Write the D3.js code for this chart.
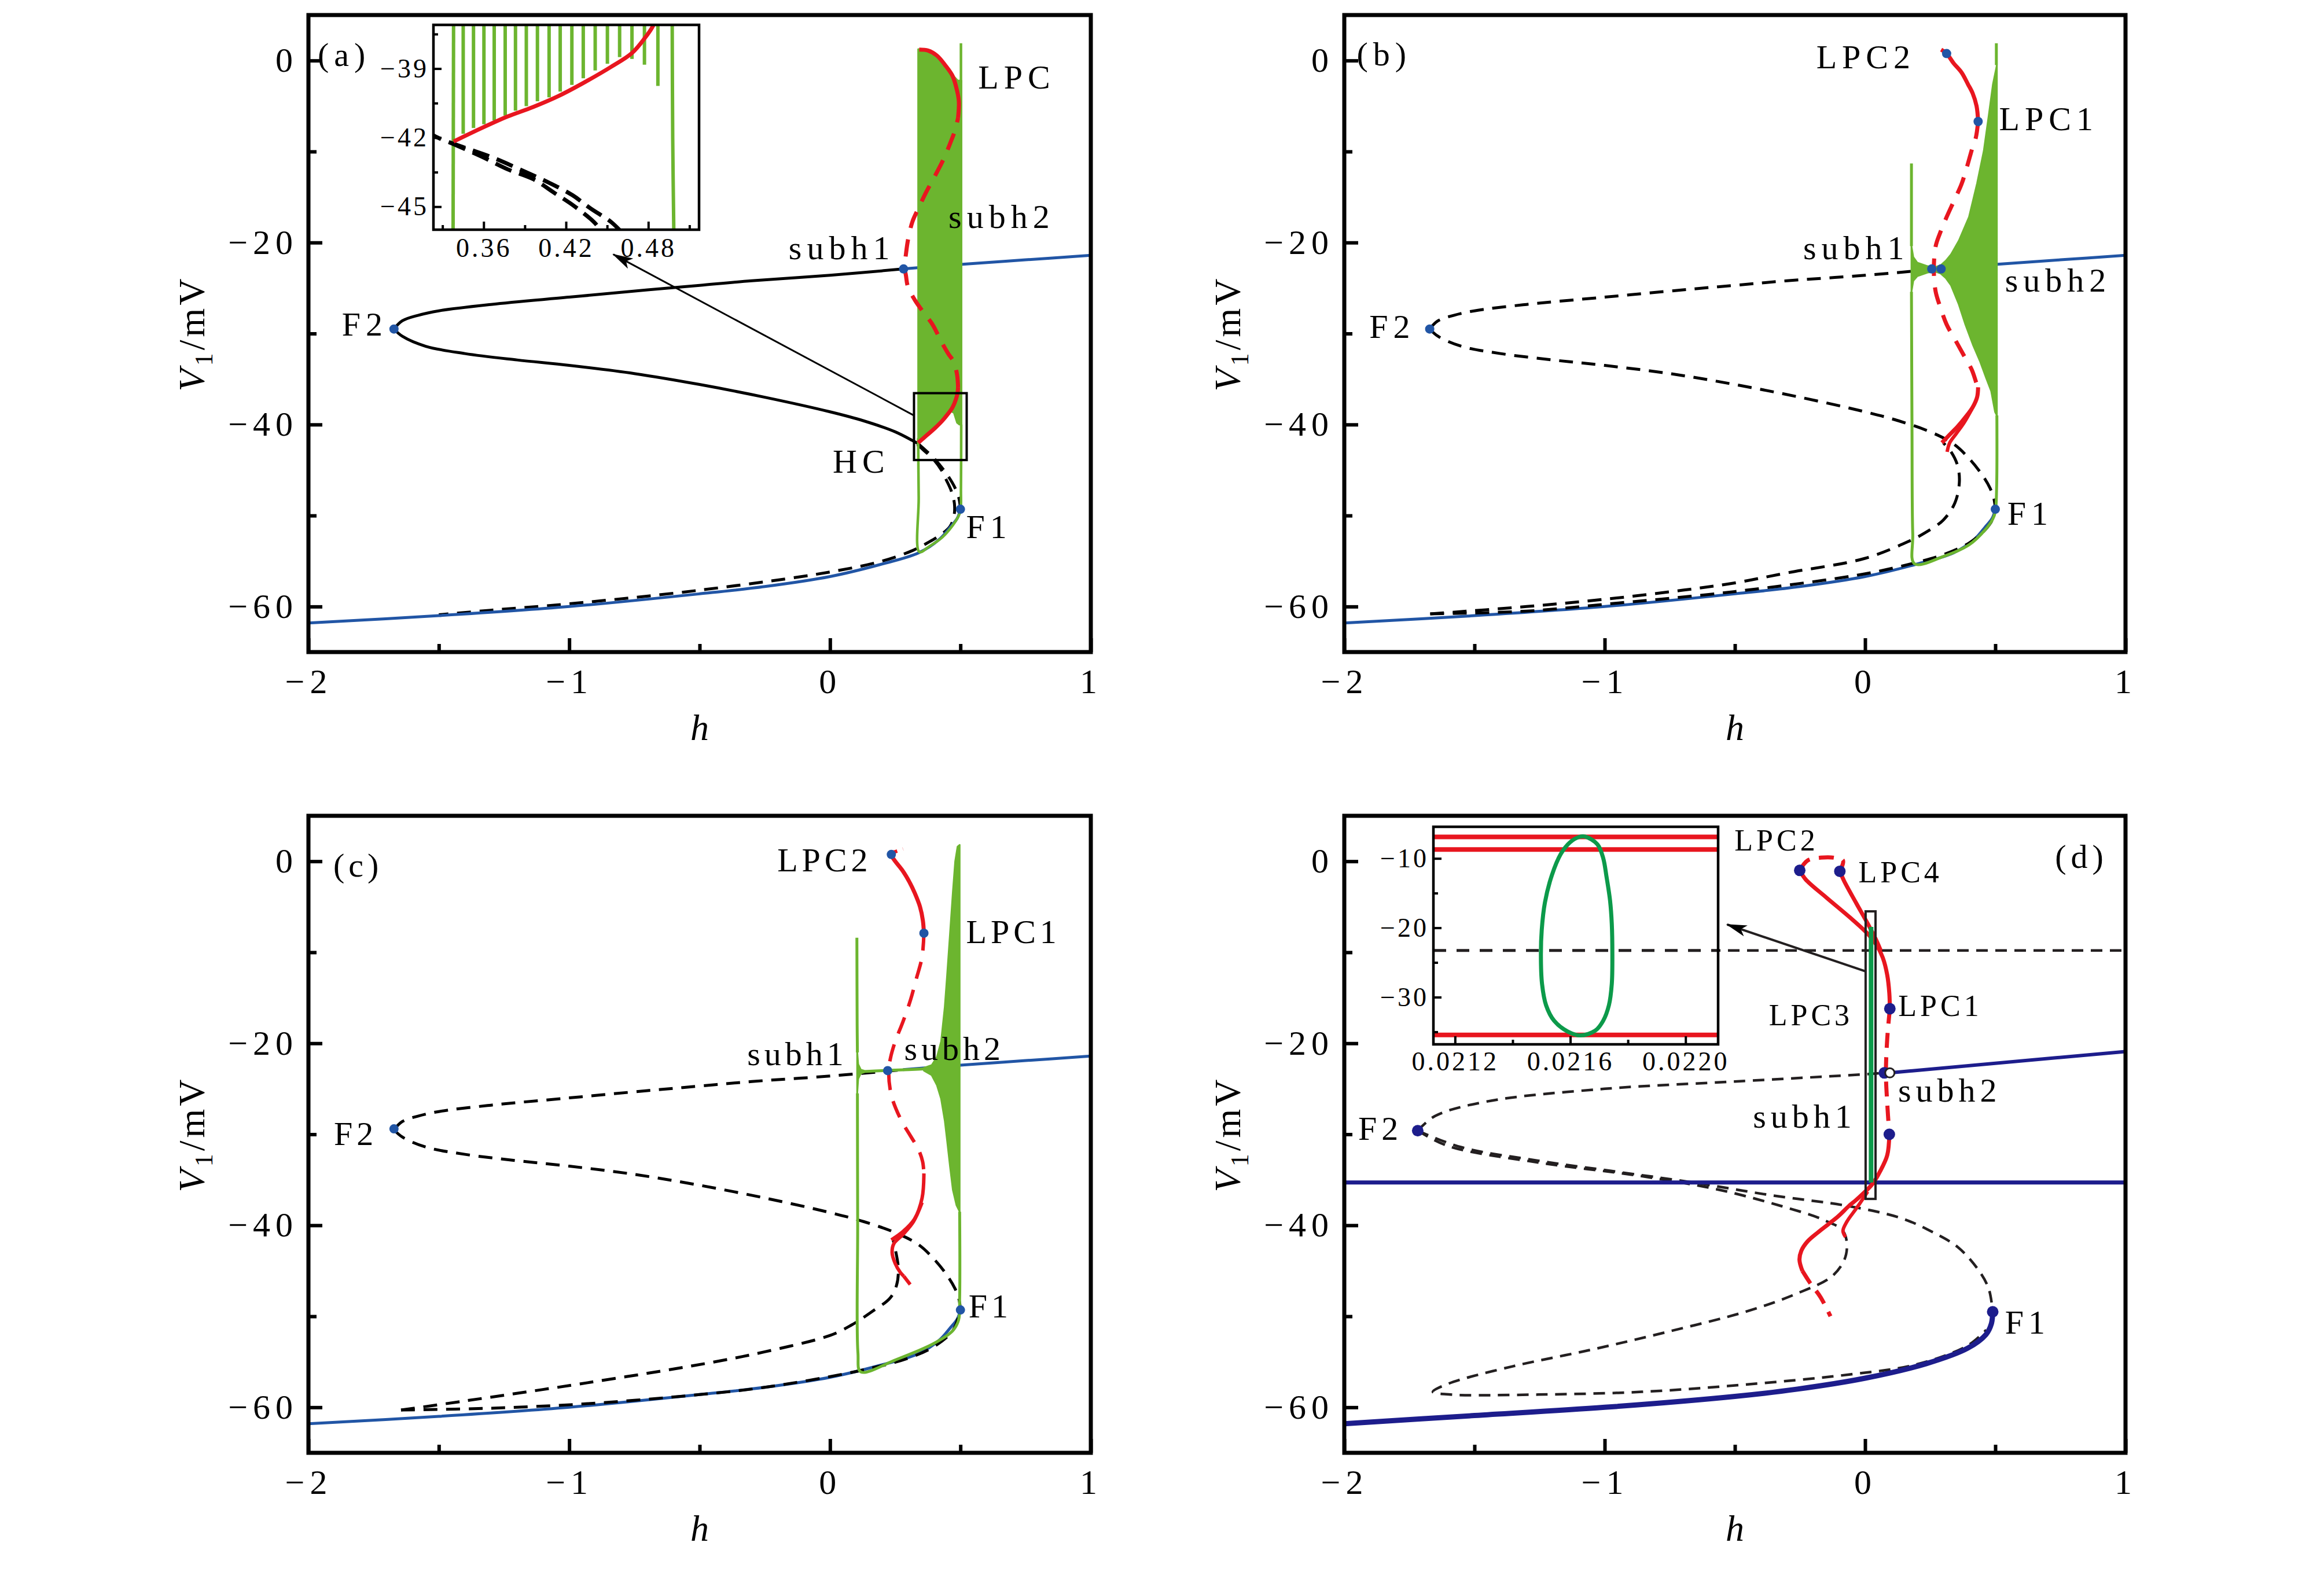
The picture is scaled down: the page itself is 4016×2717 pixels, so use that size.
<!DOCTYPE html>
<html>
<head>
<meta charset="utf-8">
<title>Bifurcation diagrams</title>
<script src="https://cdnjs.cloudflare.com/ajax/libs/d3/7.8.5/d3.min.js"></script>
<style>
html, body { margin: 0; padding: 0; background: #ffffff; }
svg { display: block; }
</style>
</head>
<body>
<svg id="chart" width="4016" height="2717" xmlns="http://www.w3.org/2000/svg"></svg>
<script>
// ======================= DATA =======================
const hDomain = [-2, 1];
const vDomain = [-65, 5];
const hTicks = [-2, -1, 0, 1];
const hMinorTicks = [-1.5, -0.5, 0.5];
const vTicks = [0, -20, -40, -60];
const vMinorTicks = [-10, -30, -50];
const xTitle = 'h';
const yTitleMain = 'V', yTitleSub = '1', yTitleUnit = '/mV';

// equilibrium S-curve (panels a-c)
const eqLower = [[-2,-61.8],[-1.5,-61.0],[-1,-60.0],[-0.5,-58.6],[-0.25,-57.8],[0,-56.7],[0.19,-55.4],[0.34,-54.1],[0.42,-52.6],[0.46,-51.3],[0.488,-50.3],[0.5,-49.3]];
const eqMid = [[-1.672,-29.5],[-1.64,-30.3],[-1.55,-31.4],[-1.4,-32.2],[-1.2,-32.9],[-1,-33.5],[-0.75,-34.4],[-0.5,-35.6],[-0.25,-37.0],[0,-38.6],[0.13,-39.6],[0.25,-40.8],[0.338,-42.1],[0.4,-43.75],[0.45,-45.55],[0.48,-47.0],[0.495,-48.2],[0.5,-49.3]];
const eqUpper = [[-1.672,-29.5],[-1.64,-28.6],[-1.58,-28.0],[-1.5,-27.5],[-1.3,-26.8],[-1,-26.0],[-0.7,-25.2],[-0.5,-24.7],[-0.3,-24.2],[0,-23.6],[0.28,-22.9],[0.5,-22.4],[0.75,-21.9],[1,-21.4]];

// ---------- panel (a) ----------
const a_loop = [[0.335,-42.2],[0.36,-42.85],[0.396,-43.8],[0.427,-45.0],[0.446,-46.1],[0.465,-47.3],[0.477,-48.7],[0.475,-50.1],[0.46,-51.2],[0.43,-52.0],[0.38,-52.9],[0.32,-53.8],[0.2,-55.0],[0,-56.2],[-0.5,-58.2],[-1,-59.7],[-1.3,-60.4],[-1.5,-60.9]];
const a_redLow = [[0.338,-42.0],[0.37,-41.2],[0.402,-40.4],[0.43,-39.6],[0.453,-38.8],[0.47,-38.1],[0.483,-37.2],[0.489,-36.5],[0.491,-35.9]];
const a_redMid = [[0.491,-35.9],[0.487,-34.5],[0.474,-33.1],[0.453,-32.2],[0.427,-30.9],[0.393,-29.0],[0.359,-27.7],[0.325,-26.3],[0.299,-24.9],[0.291,-23.6],[0.286,-22.7],[0.291,-21.3],[0.299,-19.7],[0.316,-17.7],[0.338,-16.3],[0.368,-14.5],[0.402,-12.7],[0.436,-10.8],[0.462,-9.0],[0.479,-7.7],[0.491,-6.3]];
const a_redTop = [[0.491,-6.3],[0.494,-4.5],[0.487,-3.3],[0.47,-1.7],[0.444,-0.6],[0.41,0.54],[0.376,1.1],[0.342,1.2]];
const a_greenTop = [[0.338,1.25],[0.376,1.15],[0.41,0.6],[0.444,-0.5],[0.47,-1.6],[0.49,-2.2],[0.504,-2.2]];
const a_greenBot = [[0.338,-42.0],[0.36,-41.5],[0.38,-41.05],[0.40,-40.5],[0.42,-39.9],[0.44,-39.2],[0.46,-38.5],[0.475,-38.7],[0.487,-39.8],[0.496,-40.0],[0.504,-40.0]];
const a_greenEdge = [[0.338,-41.5],[0.34,-48.0],[0.343,-54.0],[0.38,-53.4],[0.43,-52.4],[0.47,-51.1],[0.49,-50.2],[0.5,-49.5],[0.502,-47.0],[0.503,-40.0]];
const a_greenSpike = [[0.502,-2.5],[0.502,1.9]];
const a_dots = [[-1.672,-29.5],[0.282,-22.9],[0.5,-49.3]];
const a_labels = [['(a)',-1.863,-0.6],['LPC',0.716,-3.1],['subh2',0.658,-18.4],['subh1',0.045,-21.8],['F2',-1.784,-30.2],['HC',0.12,-45.3],['F1',0.61,-52.5]];
const a_box = [[0.322,-43.9],[0.524,-36.55]];
const a_arrow = [[0.322,-39.0],[-0.831,-21.3]];
// inset of (a)
const aiH = [0.3234, 0.517];
const aiV = [-46.0, -37.1];
const aiHTicks = [0.36, 0.42, 0.48];
const aiHMinor = [0.33, 0.39, 0.45, 0.51];
const aiVTicks = [-39, -42, -45];
const aiVMinor = [-37.5, -40.5, -43.5];
const aiSpikeH = [0.3451,0.3526,0.3602,0.3677,0.3757,0.3832,0.3911,0.3992,0.4077,0.4158,0.4243,0.4326,0.4413,0.4502,0.4591,0.4681,0.4772,0.4870];
const aiSpikeMin = [-41.83,-41.58,-41.42,-41.25,-41.04,-40.83,-40.63,-40.42,-40.25,-40.0,-39.71,-39.42,-39.08,-38.79,-38.5,-38.58,-38.83,-39.75];
const aiEdgeL = [[0.3381,-36.5],[0.3377,-46.5]];
const aiEdgeR = [[0.4974,-36.5],[0.4978,-42.0],[0.4987,-46.5]];
const aiRed = [[0.3381,-42.17],[0.3587,-41.58],[0.3775,-41.08],[0.396,-40.67],[0.4153,-40.17],[0.434,-39.58],[0.453,-38.92],[0.468,-38.33],[0.4775,-37.67],[0.4832,-37.17],[0.487,-36.6]];
const aiDash1 = [[0.318,-41.7],[0.3266,-42.0],[0.3474,-42.46],[0.368,-42.9],[0.3908,-43.5],[0.4077,-43.96],[0.4247,-44.5],[0.438,-45.08],[0.453,-45.67],[0.462,-46.2]];
const aiDash2 = [[0.335,-42.2],[0.3587,-42.83],[0.3775,-43.375],[0.396,-43.8],[0.4115,-44.4],[0.4266,-45.0],[0.4417,-45.75],[0.4465,-46.2]];

// ---------- panel (b) ----------
const b_loopUp = [[-1.67,-60.8],[-1.3,-60.0],[-1,-59.2],[-0.7,-58.2],[-0.5,-57.4],[-0.3,-56.3],[0,-54.7],[0.17,-52.8],[0.23,-51.9],[0.3,-50.5],[0.345,-48.6],[0.362,-46.3],[0.355,-44.5],[0.33,-43.0],[0.3,-42.0]];
const b_loopLow = [[-1.67,-60.8],[-1.3,-60.5],[-1,-59.75],[-0.5,-58.35],[0,-56.4],[0.19,-55.2],[0.3,-54.3],[0.4,-53.0],[0.46,-51.6],[0.49,-50.4],[0.5,-49.3]];
const b_redTop = [[0.292,1.2],[0.313,0.77],[0.34,-0.3],[0.37,-1.3],[0.395,-2.6],[0.413,-3.6],[0.428,-5.0],[0.434,-6.7]];
const b_redMid = [[0.434,-6.7],[0.425,-8.5],[0.413,-9.5],[0.39,-11.8],[0.37,-13.6],[0.34,-15.5],[0.313,-17.2],[0.29,-18.8],[0.271,-20.4],[0.264,-23.1],[0.271,-25.4],[0.29,-27.2],[0.313,-29.0],[0.35,-30.9],[0.385,-32.7],[0.41,-34.0],[0.427,-35.4],[0.434,-35.9]];
const b_redLow1 = [[0.434,-35.9],[0.43,-37.0],[0.413,-38.1],[0.385,-39.2],[0.356,-40.2],[0.325,-41.1],[0.295,-42.0]];
const b_redLow2 = [[0.41,-38.3],[0.38,-39.8],[0.35,-41.0],[0.325,-42.0],[0.315,-43.0]];
const b_greenTop = [[0.178,-20.4],[0.185,-21.6],[0.2,-22.2],[0.24,-22.6],[0.27,-22.7],[0.29,-22.5],[0.31,-22.0],[0.33,-21.3],[0.36,-19.8],[0.399,-17.2],[0.43,-13.5],[0.456,-9.9],[0.475,-6.0],[0.491,-2.6],[0.506,-0.5]];
const b_greenBot = [[0.178,-25.4],[0.185,-24.2],[0.2,-23.7],[0.24,-23.3],[0.27,-23.2],[0.29,-23.4],[0.31,-23.9],[0.33,-24.7],[0.36,-26.8],[0.385,-29.0],[0.415,-31.3],[0.442,-33.1],[0.465,-34.9],[0.484,-36.3],[0.499,-38.6],[0.506,-39.0]];
const b_greenLineTop = [[0.178,-11.3],[0.178,-20.4]];
const b_greenLineLow = [[0.178,-25.4],[0.18,-40.0],[0.183,-52.0],[0.19,-55.3],[0.3,-54.5],[0.4,-53.2],[0.46,-51.6],[0.49,-50.4],[0.5,-49.6],[0.505,-47.0],[0.506,-39.0]];
const b_greenSpike = [[0.504,-0.5],[0.504,1.9]];
const b_dots = [[0.313,0.77],[0.434,-6.7],[0.256,-22.9],[0.292,-22.9],[-1.672,-29.5],[0.5,-49.3]];
const b_labels = [['(b)',-1.847,-0.5],['LPC2',0.003,-0.83],['LPC1',0.705,-7.65],['subh1',-0.034,-21.8],['subh2',0.741,-25.4],['F2',-1.816,-30.5],['F1',0.634,-51.0]];

// ---------- panel (c) ----------
const c_loopUp = [[-1.645,-60.3],[-1.4,-59.3],[-0.93,-57.3],[-0.48,-55.2],[-0.25,-53.9],[0,-52.1],[0.08,-51.0],[0.16,-49.5],[0.23,-48.0],[0.255,-46.6],[0.262,-44.8],[0.25,-42.6],[0.24,-41.4]];
const c_loopLow = [[-1.645,-60.3],[-1.3,-60.1],[-0.93,-59.6],[-0.5,-58.6],[-0.25,-57.8],[0.11,-56.0],[0.3,-54.6],[0.4,-53.3],[0.47,-51.6],[0.495,-49.8]];
const c_redTopDash = [[0.228,0.9],[0.255,1.1],[0.28,1.35]];
const c_redTop = [[0.228,0.9],[0.25,0.0],[0.28,-1.1],[0.305,-2.3],[0.325,-3.5],[0.345,-5.0],[0.356,-6.5],[0.36,-7.9]];
const c_redMid = [[0.36,-7.9],[0.353,-10.5],[0.33,-13.0],[0.309,-15.2],[0.28,-17.6],[0.25,-19.8],[0.232,-21.6],[0.225,-23.0],[0.235,-25.7],[0.272,-28.4],[0.309,-30.2],[0.338,-31.6],[0.355,-33.0],[0.36,-34.3]];
const c_redLow1 = [[0.36,-34.3],[0.353,-37.0],[0.324,-39.3],[0.279,-40.7],[0.235,-41.6]];
const c_redLow2 = [[0.353,-37.5],[0.32,-39.6],[0.28,-41.0],[0.245,-42.0],[0.238,-43.0],[0.25,-44.2],[0.27,-45.2],[0.283,-45.6]];
const c_redLowDash = [[0.283,-45.6],[0.31,-46.6]];
const c_greenLineTop = [[0.103,-8.4],[0.104,-18.0],[0.105,-21.0]];
const c_flareTop = [[0.104,-20.8],[0.108,-22.3],[0.118,-22.9],[0.13,-23.0]];
const c_flareBot = [[0.104,-25.6],[0.108,-23.9],[0.118,-23.3],[0.13,-23.2]];
const c_greenThin = [[0.13,-23.1],[0.2,-23.0],[0.3,-22.9],[0.37,-22.8]];
const c_fanTop = [[0.36,-22.7],[0.39,-22.4],[0.41,-21.5],[0.426,-19.8],[0.44,-16.0],[0.449,-12.5],[0.46,-8.0],[0.471,-3.4],[0.48,0.0],[0.489,1.6],[0.497,1.8]];
const c_fanBot = [[0.36,-23.0],[0.39,-23.5],[0.41,-24.6],[0.426,-26.1],[0.44,-28.5],[0.449,-30.7],[0.46,-33.5],[0.471,-36.1],[0.485,-37.8],[0.497,-38.5]];
const c_greenLineLow = [[0.105,-25.5],[0.106,-40.0],[0.107,-54.0],[0.118,-56.1],[0.25,-54.8],[0.397,-53.0],[0.47,-51.6],[0.493,-50.4],[0.497,-48.0],[0.497,-38.5]];
const c_dots = [[0.235,0.75],[0.36,-7.9],[0.221,-23.0],[-1.672,-29.4],[0.5,-49.3]];
const c_labels = [['(c)',-1.81,-1.66],['LPC2',-0.021,-1.1],['LPC1',0.703,-9.0],['subh1',-0.125,-22.4],['subh2',0.477,-21.8],['F2',-1.819,-31.2],['F1',0.615,-50.1]];

// ---------- panel (d) ----------
const d_eqLower = [[-2,-61.8],[-1.5,-60.9],[-1,-60.0],[-0.5,-58.8],[-0.26,-58.0],[0,-56.8],[0.235,-55.2],[0.394,-53.5],[0.464,-52.0],[0.485,-50.8],[0.49,-49.5]];
const d_eqMid = [[-1.718,-29.6],[-1.553,-31.4],[-1.255,-32.9],[-0.957,-34.1],[-0.659,-35.3],[-0.36,-36.7],[-0.062,-37.9],[0.137,-39.2],[0.256,-40.7],[0.356,-42.4],[0.435,-44.9],[0.475,-47.0],[0.49,-49.5]];
const d_eqUpper = [[-1.718,-29.6],[-1.652,-28.0],[-1.454,-26.4],[-1,-25.0],[-0.5,-24.2],[0,-23.4],[0.074,-23.25]];
const d_loop = [[-1.718,-29.6],[-1.6,-31.3],[-1.255,-33.1],[-0.858,-34.6],[-0.56,-36.1],[-0.32,-37.9],[-0.16,-39.4],[-0.083,-40.7],[-0.073,-43.2],[-0.123,-45.5],[-0.262,-47.5],[-0.46,-49.5],[-0.758,-51.7],[-1.056,-53.7],[-1.354,-55.5],[-1.6,-57.4],[-1.66,-58.3],[-1.593,-58.6],[-1.255,-58.6],[-0.858,-58.3],[-0.46,-57.5],[-0.062,-56.4],[0.196,-55.3],[0.395,-53.2],[0.465,-51.5]];
const d_blueUpper = [[0.095,-23.25],[1,-20.9]];
const d_blueFlat = [[-2,-35.3],[1,-35.3]];
const d_dashFlat = [[-0.6,-9.8],[1,-9.8]];
const d_red1 = [[-0.251,-1.0],[-0.228,-2.0],[-0.148,-4.0],[-0.057,-6.2],[0.011,-8.0],[0.046,-9.3],[0.068,-10.6],[0.085,-12.5],[0.093,-14.5],[0.095,-16.2]];
const d_red2 = [[-0.097,-1.1],[-0.08,-2.2],[-0.034,-4.6],[0.011,-6.9],[0.04,-8.5],[0.06,-9.8]];
const d_red3 = [[-0.251,-1.0],[-0.22,0.1],[-0.17,0.4],[-0.12,0.4],[-0.085,0.1],[-0.097,-1.1]];
const d_red4 = [[0.095,-16.2],[0.085,-19.5],[0.08,-23.25],[0.085,-26.6],[0.093,-30.0]];
const d_red5 = [[0.093,-30.0],[0.085,-32.3],[0.057,-34.1],[0.027,-35.5],[-0.034,-37.2],[-0.063,-37.9],[-0.103,-39.0],[-0.142,-39.9],[-0.182,-40.8],[-0.222,-41.8],[-0.245,-42.8],[-0.252,-43.8],[-0.241,-45.0]];
const d_red6 = [[-0.241,-45.0],[-0.212,-46.3],[-0.171,-47.9],[-0.133,-50.0]];
const d_red7 = [[0.01,-36.3],[-0.03,-38.0],[-0.07,-39.6],[-0.085,-40.6],[-0.075,-41.3]];
const d_green = [[0.023,-7.2],[0.023,-35.3]];
const d_box = [[0.002,-37.1],[0.04,-5.5]];
const d_arrow = [[0.002,-12.1],[-0.53,-6.95]];
const d_dots = [[-0.251,-1.0],[-0.097,-1.1],[0.095,-16.2],[0.074,-23.25],[0.093,-30.0],[-1.718,-29.6],[0.49,-49.5]];
const d_ring = [[0.095,-23.25]];
const d_labels = [['(d)',0.831,-0.7],['subh2',0.325,-26.4],['subh1',-0.232,-29.3],['F2',-1.861,-30.6],['F1',0.623,-51.9]];
const d_smallLabels = [['LPC2',-0.34,1.2],['LPC4',0.136,-2.3],['LPC1',0.289,-17.0],['LPC3',-0.208,-18.0]];
// inset of (d)
const diH = [0.021125, 0.022113];
const diV = [-36.8, -5.44];
const diHTicks = [0.0212, 0.0216, 0.0220];
const diHMinor = [0.0214, 0.0218];
const diVTicks = [-10, -20, -30];
const diVMinor = [-15, -25, -35];
const diRedLevels = [-6.9, -8.71, -35.45];
const diDashLevel = -23.26;
const diLoop = [[0.021651,-6.84],[0.021694,-7.96],[0.021714,-9.92],[0.021726,-12.71],[0.021738,-16.07],[0.021744,-19.43],[0.021746,-23.90],[0.021744,-28.10],[0.021734,-31.17],[0.021714,-33.41],[0.021687,-34.81],[0.021635,-35.51],[0.021591,-34.95],[0.021544,-33.41],[0.021516,-31.17],[0.021502,-28.10],[0.021498,-23.90],[0.021501,-20.27],[0.021512,-16.35],[0.021536,-12.43],[0.021567,-9.36],[0.021599,-7.68],[0.021631,-6.90]];

// ======================= LAYOUT / STYLE =======================
const FONT = "'Liberation Serif','Times New Roman',serif";
const C = { blue:'#2155a5', green:'#6cb52f', red:'#e8161f', black:'#000000', navy:'#1d1d8c', dgreen:'#0c9a4a', dblack:'#231f20' };
const DASH = '24 15', RDASH = '30 20', DDASH = '20 13';
const frameA = {x0:533, x1:1885, y0:26, y1:1127};
const frameB = {x0:2323, x1:3673, y0:26, y1:1127};
const frameC = {x0:533, x1:1885, y0:1410, y1:2511};
const frameD = {x0:2323, x1:3673, y0:1410, y1:2511};
const insetA = {x0:749, x1:1208, y0:43, y1:397};
const insetD = {x0:2477, x1:2969, y0:1429, y1:1805};

function fmtTick(d) { return d < 0 ? '\u2212' + Math.abs(d) : String(d); }

const svg = d3.select('#chart');
const defs = svg.append('defs');
defs.append('marker').attr('id', 'arrowHead').attr('viewBox', '0 0 36 20')
  .attr('refX', 34).attr('refY', 10).attr('markerWidth', 36).attr('markerHeight', 20)
  .attr('markerUnits', 'userSpaceOnUse').attr('orient', 'auto')
  .append('path').attr('d', 'M0,0 L36,10 L0,20 L9,10 Z').attr('fill', '#000');

function linePath(layer, sx, sy, pts, color, width, dash, smooth = true) {
  const gen = d3.line().x(d => sx(d[0])).y(d => sy(d[1]))
    .curve(smooth ? d3.curveCatmullRom.alpha(0.5) : d3.curveLinear);
  return layer.append('path').attr('d', gen(pts)).attr('fill', 'none')
    .attr('stroke', color).attr('stroke-width', width)
    .attr('stroke-dasharray', dash || null)
    .attr('stroke-linejoin', 'round').attr('stroke-linecap', 'butt');
}
function band(layer, sx, sy, top, bot, color) {
  const gen = d3.line().x(d => sx(d[0])).y(d => sy(d[1])).curve(d3.curveLinearClosed);
  layer.append('path').attr('d', gen(top.concat(bot.slice().reverse())))
    .attr('fill', color).attr('stroke', color).attr('stroke-width', 3).attr('stroke-linejoin', 'round');
}
function dots(layer, sx, sy, pts, color, r) {
  layer.selectAll(null).data(pts).enter().append('circle')
    .attr('cx', d => sx(d[0])).attr('cy', d => sy(d[1])).attr('r', r).attr('fill', color);
}
function labels(layer, sx, sy, list, fs, ls) {
  layer.selectAll(null).data(list).enter().append('text')
    .attr('x', d => sx(d[1])).attr('y', d => sy(d[2])).attr('text-anchor', 'middle')
    .attr('font-family', FONT).attr('font-size', fs).attr('fill', '#000')
    .style('letter-spacing', ls + 'px').text(d => d[0]);
}
function boxRect(layer, sx, sy, b, color, w) {
  layer.append('rect').attr('x', sx(b[0][0])).attr('y', sy(b[1][1]))
    .attr('width', sx(b[1][0]) - sx(b[0][0])).attr('height', sy(b[0][1]) - sy(b[1][1]))
    .attr('fill', 'none').attr('stroke', color).attr('stroke-width', w);
}
function arrow(layer, sx, sy, a, color, w) {
  layer.append('line').attr('x1', sx(a[0][0])).attr('y1', sy(a[0][1]))
    .attr('x2', sx(a[1][0])).attr('y2', sy(a[1][1]))
    .attr('stroke', color).attr('stroke-width', w).attr('marker-end', 'url(#arrowHead)');
}
function buildPanel(frame, clipId, hDom, vDom) {
  const sx = d3.scaleLinear().domain(hDom).range([frame.x0, frame.x1]);
  const sy = d3.scaleLinear().domain(vDom).range([frame.y1, frame.y0]);
  defs.append('clipPath').attr('id', clipId).append('rect')
    .attr('x', frame.x0).attr('y', frame.y0)
    .attr('width', frame.x1 - frame.x0).attr('height', frame.y1 - frame.y0);
  const root = svg.append('g');
  root.append('rect').attr('x', frame.x0).attr('y', frame.y0)
    .attr('width', frame.x1 - frame.x0).attr('height', frame.y1 - frame.y0).attr('fill', '#fff');
  const plot = root.append('g').attr('clip-path', `url(#${clipId})`);
  return { sx, sy, root, plot, frame };
}
function drawAxes(P, o) {
  const { root, sx, sy, frame } = P;
  function put(axis, tr) {
    const a = root.append('g').attr('transform', tr).call(axis);
    a.select('.domain').remove();
    a.attr('font-family', FONT).attr('font-size', o.fs);
    a.selectAll('.tick line').attr('stroke', '#000').attr('stroke-width', o.tw);
    a.selectAll('.tick text').attr('fill', '#000').style('letter-spacing', o.ls + 'px');
  }
  put(d3.axisBottom(sx).tickValues(o.xMajor).tickSize(-o.major).tickPadding(o.xPad).tickFormat(o.xFmt), `translate(0,${frame.y1})`);
  put(d3.axisBottom(sx).tickValues(o.xMinor).tickSize(-o.minor).tickFormat(() => ''), `translate(0,${frame.y1})`);
  put(d3.axisLeft(sy).tickValues(o.yMajor).tickSize(-o.major).tickPadding(o.yPad).tickFormat(o.yFmt), `translate(${frame.x0},0)`);
  put(d3.axisLeft(sy).tickValues(o.yMinor).tickSize(-o.minor).tickFormat(() => ''), `translate(${frame.x0},0)`);
  root.append('rect').attr('x', frame.x0).attr('y', frame.y0)
    .attr('width', frame.x1 - frame.x0).attr('height', frame.y1 - frame.y0)
    .attr('fill', 'none').attr('stroke', '#000').attr('stroke-width', o.frameW);
}
function titles(P) {
  const f = P.frame;
  P.root.append('text').attr('x', (f.x0 + f.x1) / 2).attr('y', f.y1 + 152)
    .attr('text-anchor', 'middle').attr('font-family', FONT).attr('font-size', 64)
    .attr('font-style', 'italic').text(xTitle);
  const t = P.root.append('text')
    .attr('transform', `translate(${f.x0 - 180},${(f.y0 + f.y1) / 2}) rotate(-90)`)
    .attr('text-anchor', 'middle').attr('font-family', FONT).attr('font-size', 64)
    .style('letter-spacing', '5px');
  t.append('tspan').attr('font-style', 'italic').text(yTitleMain);
  t.append('tspan').attr('font-size', 44).attr('dy', 14).text(yTitleSub);
  t.append('tspan').attr('dy', -14).text(yTitleUnit);
}
const mainAxis = { fs:60, tw:6, major:24, minor:14, xPad:28, yPad:18, ls:9, frameW:7,
  xMajor:hTicks, xMinor:hMinorTicks, yMajor:vTicks, yMinor:vMinorTicks, xFmt:fmtTick, yFmt:fmtTick };

// ======================= PANEL (a) =======================
const A = buildPanel(frameA, 'clipA', hDomain, vDomain);
linePath(A.plot, A.sx, A.sy, a_loop, C.black, 5, DASH);
linePath(A.plot, A.sx, A.sy, eqMid.slice(12), C.black, 5, DASH);
linePath(A.plot, A.sx, A.sy, eqMid.slice(0, 13), C.black, 5);
linePath(A.plot, A.sx, A.sy, eqUpper.slice(0, 11), C.black, 5);
linePath(A.plot, A.sx, A.sy, eqLower, C.blue, 5);
linePath(A.plot, A.sx, A.sy, eqUpper.slice(10), C.blue, 5);
band(A.plot, A.sx, A.sy, a_greenTop, a_greenBot, C.green);
linePath(A.plot, A.sx, A.sy, a_greenEdge, C.green, 4.5);
linePath(A.plot, A.sx, A.sy, a_greenSpike, C.green, 4.5, null, false);
linePath(A.plot, A.sx, A.sy, a_redLow, C.red, 7);
linePath(A.plot, A.sx, A.sy, a_redMid, C.red, 7, RDASH);
linePath(A.plot, A.sx, A.sy, a_redTop, C.red, 7);
boxRect(A.plot, A.sx, A.sy, a_box, '#000', 4);
dots(A.plot, A.sx, A.sy, a_dots, C.blue, 8);
arrow(A.root, A.sx, A.sy, a_arrow, '#000', 3);
// inset (a)
const AI = buildPanel(insetA, 'clipAI', aiH, aiV);
aiSpikeH.forEach((h, i) => linePath(AI.plot, AI.sx, AI.sy, [[h, aiSpikeMin[i]], [h, aiV[1] + 1]], C.green, 6, null, false));
linePath(AI.plot, AI.sx, AI.sy, aiEdgeL, C.green, 6, null, false);
linePath(AI.plot, AI.sx, AI.sy, aiEdgeR, C.green, 6);
linePath(AI.plot, AI.sx, AI.sy, aiDash1, C.black, 7, '30 14');
linePath(AI.plot, AI.sx, AI.sy, aiDash2, C.black, 7, '30 14');
linePath(AI.plot, AI.sx, AI.sy, aiRed, C.red, 7);
drawAxes(AI, { fs:46, tw:4, major:14, minor:8, xPad:14, yPad:8, ls:4, frameW:4.5,
  xMajor:aiHTicks, xMinor:aiHMinor, yMajor:aiVTicks, yMinor:aiVMinor, xFmt:d3.format('.2f'), yFmt:fmtTick });
drawAxes(A, mainAxis);
titles(A);
labels(A.root, A.sx, A.sy, a_labels, 58, 9);

// ======================= PANEL (b) =======================
const B = buildPanel(frameB, 'clipB', hDomain, vDomain);
linePath(B.plot, B.sx, B.sy, eqLower, C.blue, 5);
linePath(B.plot, B.sx, B.sy, eqUpper.slice(10), C.blue, 5);
linePath(B.plot, B.sx, B.sy, b_loopUp, C.black, 5, DASH);
linePath(B.plot, B.sx, B.sy, b_loopLow, C.black, 5, DASH);
linePath(B.plot, B.sx, B.sy, eqMid, C.black, 5, DASH);
linePath(B.plot, B.sx, B.sy, eqUpper.slice(0, 11), C.black, 5, DASH);
band(B.plot, B.sx, B.sy, b_greenTop, b_greenBot, C.green);
linePath(B.plot, B.sx, B.sy, b_greenLineTop, C.green, 5, null, false);
linePath(B.plot, B.sx, B.sy, b_greenLineLow, C.green, 5);
linePath(B.plot, B.sx, B.sy, b_greenSpike, C.green, 5, null, false);
linePath(B.plot, B.sx, B.sy, b_redTop, C.red, 7);
linePath(B.plot, B.sx, B.sy, b_redMid, C.red, 7, RDASH);
linePath(B.plot, B.sx, B.sy, b_redLow1, C.red, 7);
linePath(B.plot, B.sx, B.sy, b_redLow2, C.red, 6);
dots(B.plot, B.sx, B.sy, b_dots, C.blue, 8);
drawAxes(B, mainAxis);
titles(B);
labels(B.root, B.sx, B.sy, b_labels, 58, 9);

// ======================= PANEL (c) =======================
const Cp = buildPanel(frameC, 'clipC', hDomain, vDomain);
linePath(Cp.plot, Cp.sx, Cp.sy, eqLower, C.blue, 5);
linePath(Cp.plot, Cp.sx, Cp.sy, eqUpper.slice(10), C.blue, 5);
linePath(Cp.plot, Cp.sx, Cp.sy, c_loopUp, C.black, 5, DASH);
linePath(Cp.plot, Cp.sx, Cp.sy, c_loopLow, C.black, 5, DASH);
linePath(Cp.plot, Cp.sx, Cp.sy, eqMid, C.black, 5, DASH);
linePath(Cp.plot, Cp.sx, Cp.sy, eqUpper.slice(0, 11), C.black, 5, DASH);
linePath(Cp.plot, Cp.sx, Cp.sy, c_greenLineTop, C.green, 5);
band(Cp.plot, Cp.sx, Cp.sy, c_flareTop, c_flareBot, C.green);
linePath(Cp.plot, Cp.sx, Cp.sy, c_greenThin, C.green, 5);
band(Cp.plot, Cp.sx, Cp.sy, c_fanTop, c_fanBot, C.green);
linePath(Cp.plot, Cp.sx, Cp.sy, c_greenLineLow, C.green, 5);
linePath(Cp.plot, Cp.sx, Cp.sy, c_redTopDash, C.red, 6, '14 10');
linePath(Cp.plot, Cp.sx, Cp.sy, c_redTop, C.red, 7);
linePath(Cp.plot, Cp.sx, Cp.sy, c_redMid, C.red, 6, RDASH);
linePath(Cp.plot, Cp.sx, Cp.sy, c_redLow1, C.red, 6);
linePath(Cp.plot, Cp.sx, Cp.sy, c_redLow2, C.red, 6);
linePath(Cp.plot, Cp.sx, Cp.sy, c_redLowDash, C.red, 6, '18 12');
dots(Cp.plot, Cp.sx, Cp.sy, c_dots, C.blue, 8);
drawAxes(Cp, mainAxis);
titles(Cp);
labels(Cp.root, Cp.sx, Cp.sy, c_labels, 58, 7);

// ======================= PANEL (d) =======================
const D = buildPanel(frameD, 'clipD', hDomain, vDomain);
linePath(D.plot, D.sx, D.sy, d_loop, C.dblack, 4.5, DDASH);
linePath(D.plot, D.sx, D.sy, d_eqMid, C.dblack, 4.5, DDASH);
linePath(D.plot, D.sx, D.sy, d_eqUpper, C.dblack, 4.5, DDASH);
linePath(D.plot, D.sx, D.sy, d_dashFlat, C.dblack, 4.5, DDASH, false);
linePath(D.plot, D.sx, D.sy, d_eqLower, C.navy, 9);
linePath(D.plot, D.sx, D.sy, d_blueFlat, C.navy, 7, null, false);
linePath(D.plot, D.sx, D.sy, d_blueUpper, C.navy, 6, null, false);
linePath(D.plot, D.sx, D.sy, d_red3, C.red, 7, '26 16');
linePath(D.plot, D.sx, D.sy, d_red1, C.red, 7);
linePath(D.plot, D.sx, D.sy, d_red2, C.red, 7);
linePath(D.plot, D.sx, D.sy, d_red4, C.red, 7, '26 16');
linePath(D.plot, D.sx, D.sy, d_red5, C.red, 7);
linePath(D.plot, D.sx, D.sy, d_red6, C.red, 7, '26 16');
linePath(D.plot, D.sx, D.sy, d_red7, C.red, 6);
linePath(D.plot, D.sx, D.sy, d_green, C.dgreen, 8, null, false);
boxRect(D.plot, D.sx, D.sy, d_box, C.dblack, 4);
dots(D.plot, D.sx, D.sy, d_dots, C.navy, 10);
D.plot.selectAll(null).data(d_ring).enter().append('circle')
  .attr('cx', d => D.sx(d[0])).attr('cy', d => D.sy(d[1])).attr('r', 8)
  .attr('fill', '#fff').attr('stroke', C.dblack).attr('stroke-width', 3);
arrow(D.root, D.sx, D.sy, d_arrow, C.dblack, 4);
// inset (d)
const DI = buildPanel(insetD, 'clipDI', diH, diV);
diRedLevels.forEach(v => linePath(DI.plot, DI.sx, DI.sy, [[diH[0], v], [diH[1], v]], C.red, 8, null, false));
linePath(DI.plot, DI.sx, DI.sy, [[diH[0], diDashLevel], [diH[1], diDashLevel]], C.dblack, 5, '22 18', false);
DI.plot.append('path')
  .attr('d', d3.line().x(d => DI.sx(d[0])).y(d => DI.sy(d[1])).curve(d3.curveCatmullRomClosed.alpha(0.5))(diLoop))
  .attr('fill', 'none').attr('stroke', C.dgreen).attr('stroke-width', 7);
drawAxes(DI, { fs:46, tw:4, major:14, minor:8, xPad:12, yPad:8, ls:4, frameW:4.5,
  xMajor:diHTicks, xMinor:diHMinor, yMajor:diVTicks, yMinor:diVMinor, xFmt:d3.format('.4f'), yFmt:fmtTick });
drawAxes(D, mainAxis);
titles(D);
labels(D.root, D.sx, D.sy, d_labels, 58, 8);
labels(D.root, D.sx, D.sy, d_smallLabels, 52, 6);
</script>
</body>
</html>
